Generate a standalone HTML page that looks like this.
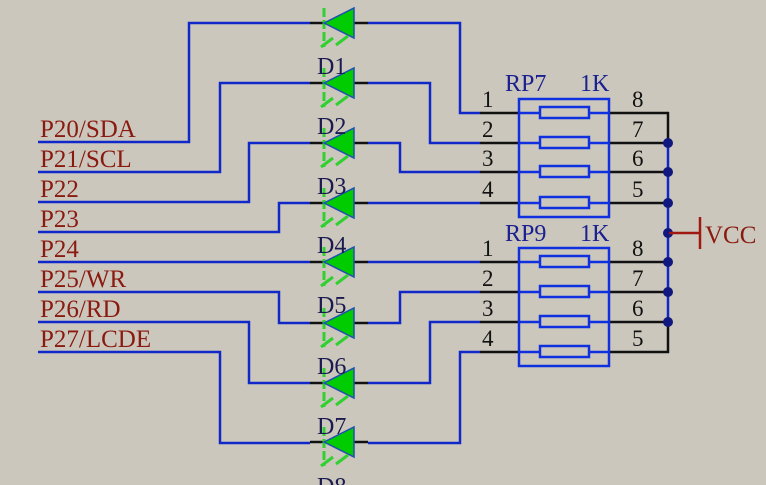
<!DOCTYPE html>
<html><head><meta charset="utf-8"><style>
html,body{margin:0;padding:0;background:#cbc7bd;}
svg{display:block;}
text{font-family:"Liberation Serif",serif;}
</style></head><body>
<svg width="766" height="485" viewBox="0 0 766 485" xmlns="http://www.w3.org/2000/svg">
<rect width="766" height="485" fill="#cbc7bd"/>
<g fill="none" stroke="#1028c8" stroke-width="2.5">
<polyline points="38,142 189,142 189,23 310,23"/>
<polyline points="38,172 220,172 220,83 310,83"/>
<polyline points="38,202 249,202 249,143 310,143"/>
<polyline points="38,232 279,232 279,203 310,203"/>
<polyline points="38,262 310,262"/>
<polyline points="38,292 279,292 279,323 310,323"/>
<polyline points="38,322 249,322 249,383 310,383"/>
<polyline points="38,352 220,352 220,443 310,443"/>
<polyline points="368,23 460,23 460,113 480,113"/>
<polyline points="368,83 430,83 430,143 480,143"/>
<polyline points="368,143 400,143 400,172 480,172"/>
<polyline points="368,203 480,203"/>
<polyline points="368,262 480,262"/>
<polyline points="368,323 400,323 400,292 480,292"/>
<polyline points="368,383 430,383 430,322 480,322"/>
<polyline points="368,443 460,443 460,352 480,352"/>
<line x1="668" y1="143" x2="668" y2="322"/>
</g>
<g stroke="#111" stroke-width="2.5">
<line x1="480" y1="113" x2="520" y2="113"/><line x1="480" y1="143" x2="520" y2="143"/>
<line x1="480" y1="172" x2="520" y2="172"/><line x1="480" y1="203" x2="520" y2="203"/>
<line x1="480" y1="262" x2="520" y2="262"/><line x1="480" y1="292" x2="520" y2="292"/>
<line x1="480" y1="322" x2="520" y2="322"/><line x1="480" y1="352" x2="520" y2="352"/>
<line x1="609" y1="113" x2="669" y2="113"/><line x1="609" y1="143" x2="668" y2="143"/>
<line x1="609" y1="172" x2="668" y2="172"/><line x1="609" y1="203" x2="668" y2="203"/>
<line x1="609" y1="262" x2="668" y2="262"/><line x1="609" y1="292" x2="668" y2="292"/>
<line x1="609" y1="322" x2="668" y2="322"/><line x1="609" y1="352" x2="669" y2="352"/>
<line x1="668" y1="112" x2="668" y2="143"/><line x1="668" y1="322" x2="668" y2="353"/>
</g>
<g fill="none" stroke="#1030e0" stroke-width="2.5">
<rect x="519" y="99" width="90" height="118"/>
<rect x="519" y="248" width="90" height="118"/>
<line x1="519" y1="113" x2="609" y2="113"/><line x1="519" y1="143" x2="609" y2="143"/>
<line x1="519" y1="172" x2="609" y2="172"/><line x1="519" y1="203" x2="609" y2="203"/>
<line x1="519" y1="262" x2="609" y2="262"/><line x1="519" y1="292" x2="609" y2="292"/>
<line x1="519" y1="322" x2="609" y2="322"/><line x1="519" y1="352" x2="609" y2="352"/>
</g>
<g fill="#cbc7bd" stroke="#1030e0" stroke-width="2.5">
<rect x="540" y="107" width="49" height="11"/><rect x="540" y="137" width="49" height="11"/>
<rect x="540" y="166" width="49" height="11"/><rect x="540" y="197" width="49" height="11"/>
<rect x="540" y="256" width="49" height="11"/><rect x="540" y="286" width="49" height="11"/>
<rect x="540" y="316" width="49" height="11"/><rect x="540" y="346" width="49" height="11"/>
</g>
<g fill="#101880">
<circle cx="668" cy="143" r="5"/><circle cx="668" cy="172" r="5"/><circle cx="668" cy="203" r="5"/>
<circle cx="668" cy="233" r="5"/><circle cx="668" cy="262" r="5"/><circle cx="668" cy="292" r="5"/>
<circle cx="668" cy="322" r="5"/>
</g>
<g stroke="#a01810" stroke-width="2.5">
<line x1="669" y1="233" x2="700" y2="233"/><line x1="700" y1="217" x2="700" y2="249"/>
</g>
<text x="705" y="243" font-size="25" fill="#8a1a10">VCC</text>
<g id="d0">
<line x1="310" y1="23" x2="324" y2="23" stroke="#111" stroke-width="2.5"/>
<line x1="353" y1="23" x2="368" y2="23" stroke="#111" stroke-width="2.5"/>
<line x1="324" y1="8" x2="324" y2="47" stroke="#30d030" stroke-width="3" stroke-dasharray="9,3"/>
<polygon points="324,23 354,8 354,38" fill="#00cc00" stroke="#2050b0" stroke-width="1.5"/>
<line x1="321" y1="47" x2="333" y2="38" stroke="#30d030" stroke-width="3"/>
<line x1="336" y1="45" x2="348" y2="36" stroke="#30d030" stroke-width="3"/>
</g>
<use href="#d0" y="60"/><use href="#d0" y="120"/><use href="#d0" y="180"/>
<use href="#d0" y="239"/><use href="#d0" y="300"/><use href="#d0" y="360"/><use href="#d0" y="419"/>
<g font-size="24" fill="#1a1a50">
<text x="317" y="74">D1</text><text x="317" y="134">D2</text><text x="317" y="194">D3</text>
<text x="317" y="253">D4</text><text x="317" y="313">D5</text><text x="317" y="374">D6</text>
<text x="317" y="434">D7</text><text x="317" y="494">D8</text>
</g>
<g font-size="25" fill="#8a1a10">
<text x="40" y="137">P20/SDA</text><text x="40" y="167">P21/SCL</text>
<text x="40" y="197">P22</text><text x="40" y="227">P23</text>
<text x="40" y="257">P24</text><text x="40" y="287">P25/WR</text>
<text x="40" y="317">P26/RD</text><text x="40" y="347">P27/LCDE</text>
</g>
<g font-size="24" fill="#1a2090">
<text x="505" y="91">RP7</text><text x="580" y="91">1K</text>
<text x="505" y="241">RP9</text><text x="580" y="241">1K</text>
</g>
<g font-size="23" fill="#111">
<text x="482" y="107">1</text><text x="482" y="137">2</text><text x="482" y="166">3</text><text x="482" y="197">4</text>
<text x="632" y="107">8</text><text x="632" y="137">7</text><text x="632" y="166">6</text><text x="632" y="197">5</text>
<text x="482" y="256">1</text><text x="482" y="286">2</text><text x="482" y="316">3</text><text x="482" y="346">4</text>
<text x="632" y="256">8</text><text x="632" y="286">7</text><text x="632" y="316">6</text><text x="632" y="346">5</text>
</g>
</svg>
</body></html>
